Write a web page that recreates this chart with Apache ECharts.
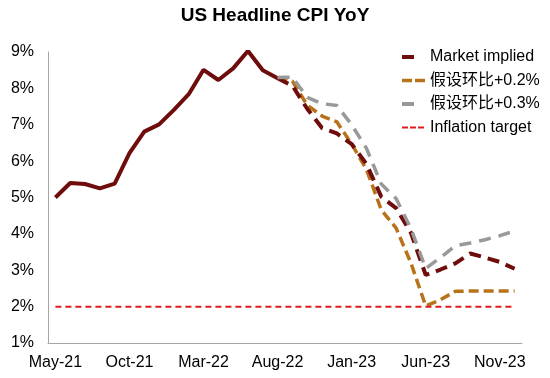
<!DOCTYPE html>
<html>
<head>
<meta charset="utf-8">
<script src="https://cdn.jsdelivr.net/npm/echarts@6/dist/echarts.min.js"></script>
<style>html,body{margin:0;padding:0;background:#fff}#c{width:550px;height:378px}</style>
</head>
<body>
<div id="c"></div>
<script>
var categories = ["May-21","Jun-21","Jul-21","Aug-21","Sep-21","Oct-21","Nov-21","Dec-21",
  "Jan-22","Feb-22","Mar-22","Apr-22","May-22","Jun-22","Jul-22","Aug-22","Sep-22","Oct-22","Nov-22","Dec-22",
  "Jan-23","Feb-23","Mar-23","Apr-23","May-23","Jun-23","Jul-23","Aug-23","Sep-23","Oct-23","Nov-23","Dec-23"];
// actual CPI YoY, May-21 .. Aug-22
var actualCpi = [5.0,5.4,5.37,5.25,5.38,6.22,6.81,7.01,7.41,7.84,8.51,8.23,8.55,9.03,8.5,8.28];
// forecasts, Aug-22 .. Dec-23
var marketImplied = [8.28,8.07,7.44,6.91,6.76,6.47,5.92,5.02,4.71,4.03,2.87,3.02,3.19,3.46,3.35,3.23,3.04];
var mom02 = [8.29,8.2,7.54,7.24,7.08,6.47,5.77,4.66,4.16,3.2,2.02,2.19,2.42,2.43,2.43,2.43,2.43];
var mom03 = [8.3,8.31,7.75,7.58,7.53,7.0,6.35,5.37,4.97,4.15,3.05,3.35,3.67,3.75,3.84,3.95,4.08];
var target = 2;
var forecastStart = "Aug-22";

var startIdx = categories.indexOf(forecastStart);
function pad(arr){ var out = []; for (var i=0;i<startIdx;i++) out.push(null); return out.concat(arr); }
var targetData = categories.map(function(){ return target; });

var FONT = "'Liberation Sans', Arial, 'Noto Sans CJK SC', sans-serif";
var C_DARK = '#6f0c0c', C_BROWN = '#b8731a', C_GRAY = '#999999', C_RED = '#e01b1b';
var chart = echarts.init(document.getElementById('c'));
chart.setOption({
  animation: false,
  textStyle: { fontFamily: FONT },
  title: {
    text: 'US Headline CPI YoY', left: 'center', top: 1,
    textStyle: { fontFamily: FONT, fontSize: 19, fontWeight: 'bold', color: '#000' }
  },
  legend: {
    orient: 'vertical', left: 400, top: 49, padding: 0, itemWidth: 23, itemHeight: 14, itemGap: 7.5,
    textStyle: { fontFamily: FONT, fontSize: 16, color: '#000' },
    itemStyle: { opacity: 0 },
    data: [
      { name: 'Market implied', lineStyle: { color: C_DARK, width: 4, type: [12, 30] } },
      { name: '假设环比+0.2%', lineStyle: { color: C_BROWN, width: 3.5, type: [10, 3] } },
      { name: '假设环比+0.3%', lineStyle: { color: C_GRAY, width: 4, type: [12, 30] } },
      { name: 'Inflation target', lineStyle: { color: C_RED, width: 2, type: [6, 2] } }
    ]
  },
  grid: { left: 48, right: 28, top: 52, bottom: 35 },
  xAxis: {
    type: 'category', data: categories, boundaryGap: true,
    axisLine: { lineStyle: { color: '#a6a6a6', width: 1 } },
    axisTick: { interval: 4, length: 5, lineStyle: { color: '#a6a6a6' } },
    axisLabel: { interval: 4, margin: 12, fontSize: 16, color: '#000', fontFamily: FONT },
    splitLine: { show: false }
  },
  yAxis: {
    type: 'value', min: 1, max: 9, interval: 1,
    axisLine: { show: true, lineStyle: { color: '#a6a6a6', width: 1 } },
    axisTick: { show: false },
    axisLabel: { formatter: '{value}%', fontSize: 16, color: '#000', margin: 14, fontFamily: FONT },
    splitLine: { show: false }
  },
  series: [
    { name: 'actual', type: 'line', data: actualCpi, symbol: 'none',
      lineStyle: { color: C_DARK, width: 4 }, itemStyle: { color: C_DARK } },
    { name: '假设环比+0.2%', type: 'line', data: pad(mom02), symbol: 'none',
      lineStyle: { color: C_BROWN, width: 3.5, type: [10, 5] }, itemStyle: { color: C_BROWN } },
    { name: 'Market implied', type: 'line', data: pad(marketImplied), symbol: 'none',
      lineStyle: { color: C_DARK, width: 4, type: [12, 7] }, itemStyle: { color: C_DARK } },
    { name: '假设环比+0.3%', type: 'line', data: pad(mom03), symbol: 'none',
      lineStyle: { color: C_GRAY, width: 3.5, type: [12, 8] }, itemStyle: { color: C_GRAY } },
    { name: 'Inflation target', type: 'line', data: targetData, symbol: 'none',
      lineStyle: { color: C_RED, width: 2, type: [6, 4] }, itemStyle: { color: C_RED } }
  ]
});
</script>
</body>
</html>
